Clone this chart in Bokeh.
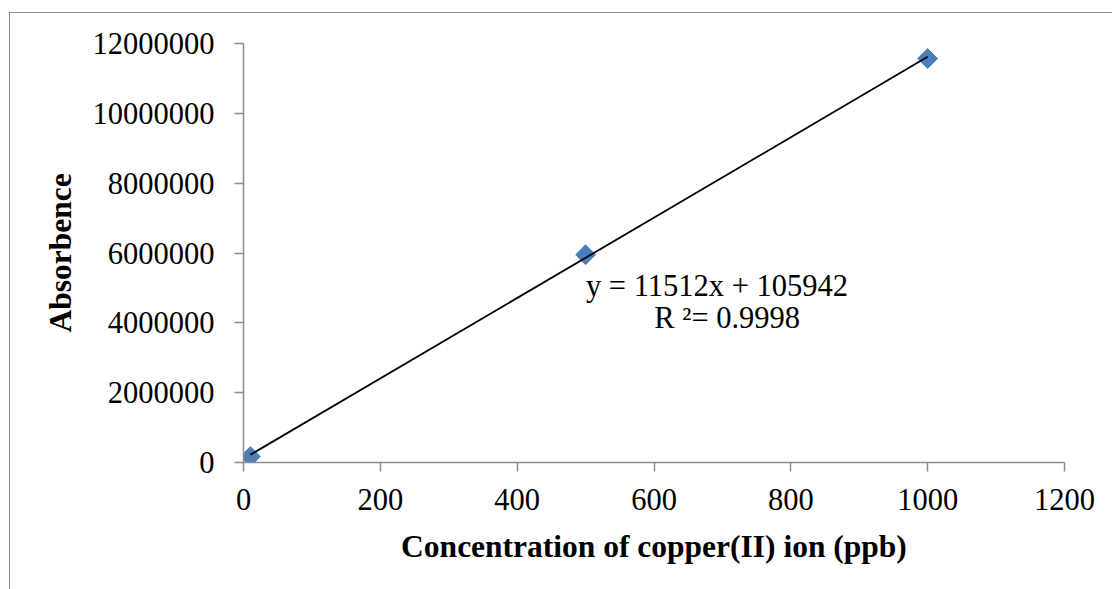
from bokeh.plotting import figure
from bokeh.models import FixedTicker, BasicTickFormatter, Range1d, ColumnDataSource, InlineStyleSheet
from bokeh.core.properties import value
from bokeh.embed import file_html
from bokeh.resources import INLINE
import math

# Calibration data: copper(II) concentration vs. measured signal
concentration_ppb = [10, 500, 1000]
absorbence = [170000, 5950000, 11570000]

# Linear fit reported on the chart
slope = 11512
intercept = 105942
r_squared = 0.9998

x_ticks = [0, 200, 400, 600, 800, 1000, 1200]
y_ticks = [0, 2000000, 4000000, 6000000, 8000000, 10000000, 12000000]

SERIF = "Liberation Serif"
AXIS_GREY = "#8c8c8c"

p = figure(
    width=1112, height=589,
    output_backend="svg", toolbar_location=None,
    x_range=Range1d(0, 1200), y_range=Range1d(0, 12000000),
    min_border_left=243, min_border_right=48,
    min_border_top=43, min_border_bottom=127,
    background_fill_color="white", border_fill_color="white",
)
p.outline_line_color = None
p.xgrid.visible = False
p.ygrid.visible = False

for ax, ticks in ((p.xaxis[0], x_ticks), (p.yaxis[0], y_ticks)):
    ax.ticker = FixedTicker(ticks=ticks)
    ax.formatter = BasicTickFormatter(use_scientific=False)
    ax.minor_tick_line_color = None
    ax.major_tick_in = 0
    ax.major_tick_out = 9
    ax.axis_line_color = AXIS_GREY
    ax.axis_line_width = 1.5
    ax.major_tick_line_color = AXIS_GREY
    ax.major_tick_line_width = 1.5
    ax.major_label_text_font = SERIF
    ax.major_label_text_font_size = "30.5px"
    ax.major_label_text_color = "black"
    ax.axis_label_text_font = SERIF
    ax.axis_label_text_font_size = "31.5px"
    ax.axis_label_text_font_style = "bold"
    ax.axis_label_text_color = "black"

p.xaxis.axis_label = "Concentration of copper(II) ion (ppb)"
p.yaxis.axis_label = "Absorbence"
p.xaxis.major_label_standoff = 17
p.yaxis.major_label_standoff = 20
p.xaxis.axis_label_standoff = 16
p.yaxis.axis_label_standoff = 12

# Outer chart border (left and top edges of the chart area)
p.stylesheets = [InlineStyleSheet(css="""
:host { position: relative; }
:host::after {
  content: "";
  position: absolute;
  left: 9px; top: 12px; right: 0; bottom: 0;
  border-left: 1.5px solid #8c8c8c;
  border-top: 1.5px solid #8c8c8c;
  pointer-events: none;
}
""")]

src = ColumnDataSource(dict(x=concentration_ppb, y=absorbence))
p.scatter("x", "y", source=src, marker="square", angle=math.pi / 4, size=14,
          fill_color="#4a7ebb", line_color="#4a7ebb")

# Trendline drawn from the fitted equation across the data range
x_fit = [min(concentration_ppb), max(concentration_ppb)]
y_fit = [slope * x + intercept for x in x_fit]
p.line(x_fit, y_fit, line_color="black", line_width=1.8)

eq_lines = [f"y = {slope}x + {intercept}", f"R \u00b2= {r_squared}"]
p.text(x=[692, 707], y=[5060000, 4150000], text=eq_lines,
       text_font=value(SERIF), text_font_size=value("30.5px"),
       text_align="center", text_baseline="alphabetic", text_color="black")

open("out.html", "w").write(file_html(p, INLINE))
